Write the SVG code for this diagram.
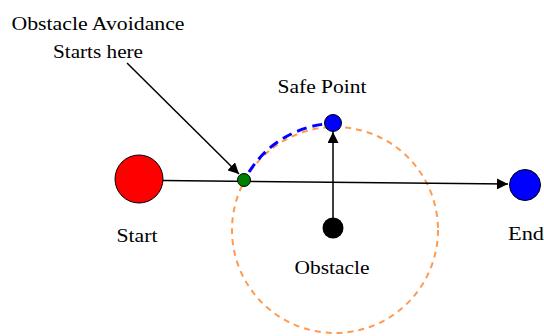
<svg xmlns="http://www.w3.org/2000/svg" width="544" height="336" viewBox="0 0 544 336">
<style>
text{font-family:"Liberation Serif","DejaVu Serif",serif;font-size:19px;fill:#000;text-anchor:middle}
.ln{stroke:#000;stroke-width:1.5;fill:none}
</style>
<defs>
<marker id="ah" viewBox="0 0 10 10" refX="10" refY="5" markerWidth="11" markerHeight="11" markerUnits="userSpaceOnUse" orient="auto"><path d="M0,0 L10,5 L0,10 z" fill="#000"/></marker>
</defs>
<rect width="544" height="336" fill="#fff"/>
<g id="connectors">
<circle cx="335" cy="230" r="103" fill="none" stroke="#ff9a50" stroke-width="2" stroke-dasharray="6,5"/>
<path d="M163,180.5 L508,184" class="ln" marker-end="url(#ah)"/>
<path d="M127,63 L239,174" class="ln" marker-end="url(#ah)"/>
<path d="M333,228 L333,132" class="ln" marker-end="url(#ah)"/>
<path d="M249,172 A104,104 0 0 1 325,124" fill="none" stroke="#0000ff" stroke-width="3" stroke-dasharray="10,6"/>
</g>
<g id="start"><circle cx="139" cy="179" r="24" fill="#ff0000" stroke="#000" stroke-width="1"/><text x="137" y="242" textLength="41" lengthAdjust="spacingAndGlyphs">Start</text></g>
<g id="end"><circle cx="525" cy="185" r="15.5" fill="#0000ff" stroke="#000" stroke-width="1"/><text x="526" y="240" textLength="36" lengthAdjust="spacingAndGlyphs">End</text></g>
<g id="avoid"><circle cx="244" cy="180" r="6.5" fill="#008000" stroke="#000" stroke-width="1"/><text x="98" y="30" textLength="173" lengthAdjust="spacingAndGlyphs">Obstacle Avoidance</text><text x="98" y="58" textLength="90" lengthAdjust="spacingAndGlyphs">Starts here</text></g>
<g id="safe"><circle cx="333" cy="123" r="8.5" fill="#0000ff" stroke="#000" stroke-width="1"/><text x="322" y="93" textLength="89" lengthAdjust="spacingAndGlyphs">Safe Point</text></g>
<g id="obstacle"><circle cx="333" cy="228" r="10.5" fill="#000"/><text x="332" y="274" textLength="75" lengthAdjust="spacingAndGlyphs">Obstacle</text></g>
</svg>
